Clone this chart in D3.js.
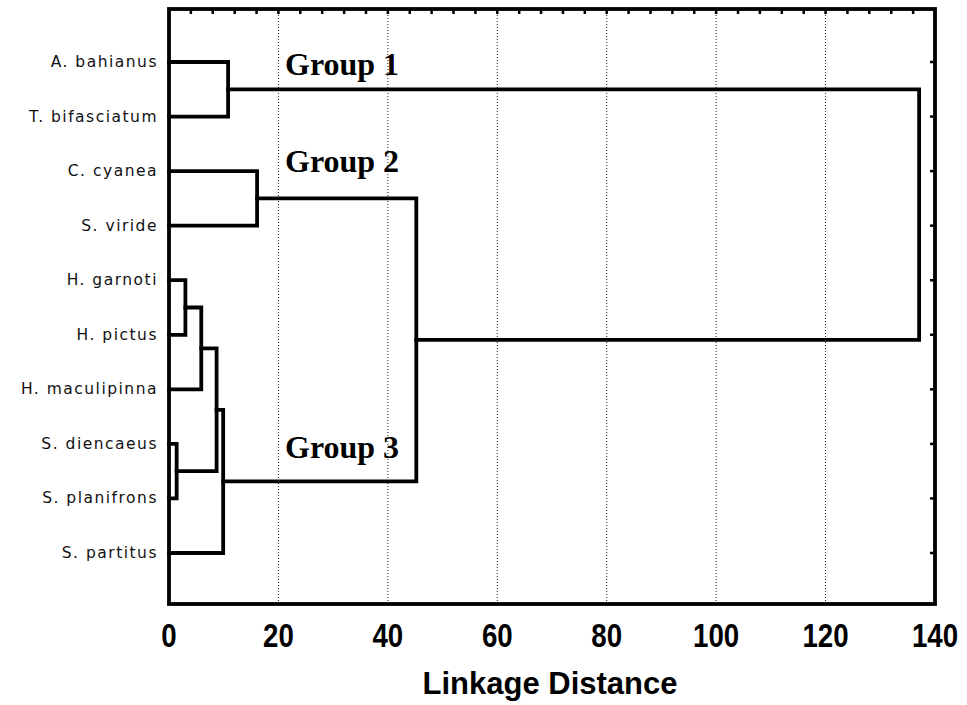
<!DOCTYPE html>
<html>
<head>
<meta charset="utf-8">
<script src="https://cdn.jsdelivr.net/npm/d3@7"></script>
<style>
  html, body { margin: 0; padding: 0; background: #fff; }
  svg { display: block; }
  .leaf { font-family: "DejaVu Sans", sans-serif; font-size: 15.5px; letter-spacing: 1.5px; fill: #111; }
  .tick-label { font-family: "Liberation Sans", Arial, sans-serif; font-size: 33px; font-weight: bold; fill: #000; }
  .axis-title { font-family: "Liberation Sans", Arial, sans-serif; font-size: 31px; font-weight: bold; fill: #000; }
  .group { font-family: "Liberation Serif", "Times New Roman", serif; font-size: 32px; font-weight: bold; fill: #000; }
</style>
</head>
<body>
<svg id="chart" width="967" height="705"></svg>
<script>
// leaves, top to bottom
const leaves = [
  "A. bahianus", "T. bifasciatum", "C. cyanea", "S. viride", "H. garnoti",
  "H. pictus", "H. maculipinna", "S. diencaeus", "S. planifrons", "S. partitus"
];
// joins: indices < 10 are leaves, 10+k is the k-th join
const joinPairs = [
  [0, 1], [2, 3], [4, 5], [12, 6], [7, 8], [13, 14], [15, 9], [11, 16], [10, 17]
];
const joinHeights = [10.8, 16.1, 3.0, 5.9, 1.4, 8.7, 9.9, 45.2, 137.1];
const xTicks = [0, 20, 40, 60, 80, 100, 120, 140];
const gridValues = [20, 40, 60, 80, 100, 120];
const groupLabels = ["Group 1", "Group 2", "Group 3"];
const groupLabelY = [75, 172, 458]; // baselines

const svg = d3.select("#chart");
const plot = { left: 169, right: 935, top: 9, bottom: 604 };

const x = d3.scaleLinear().domain([0, 140]).range([plot.left, plot.right]);
const y = d3.scalePoint().domain(leaves).range([62, 553]);

// dotted grid
svg.append("g")
  .selectAll("line")
  .data(gridValues)
  .join("line")
  .attr("x1", d => x(d)).attr("x2", d => x(d))
  .attr("y1", plot.top).attr("y2", plot.bottom)
  .attr("stroke", "#222")
  .attr("stroke-width", 1)
  .attr("stroke-dasharray", "1,2");

// minor ticks on top frame
svg.append("g")
  .selectAll("line")
  .data(d3.range(4, 140, 4))
  .join("line")
  .attr("x1", d => x(d)).attr("x2", d => x(d))
  .attr("y1", plot.top).attr("y2", plot.top + 5)
  .attr("stroke", "#000")
  .attr("stroke-width", 2.5);

// ticks on right frame at leaves
svg.append("g")
  .selectAll("line")
  .data(leaves)
  .join("line")
  .attr("x1", plot.right - 5).attr("x2", plot.right)
  .attr("y1", d => y(d)).attr("y2", d => y(d))
  .attr("stroke", "#000")
  .attr("stroke-width", 2.5);

// nodes
const nodes = leaves.map(name => ({ h: 0, y: y(name) }));
joinPairs.forEach(([a, b], i) => {
  const na = nodes[a], nb = nodes[b];
  nodes.push({ h: joinHeights[i], y: (na.y + nb.y) / 2, a: na, b: nb });
});

const links = nodes.filter(n => n.a);
svg.append("g")
  .selectAll("path")
  .data(links)
  .join("path")
  .attr("d", n => `M${x(n.a.h)},${n.a.y}H${x(n.h)}V${n.b.y}H${x(n.b.h)}`)
  .attr("fill", "none")
  .attr("stroke", "#000")
  .attr("stroke-width", 3.8)
  .attr("stroke-linejoin", "miter")
  .attr("stroke-linecap", "square");

// frame
svg.append("rect")
  .attr("x", plot.left).attr("y", plot.top)
  .attr("width", plot.right - plot.left)
  .attr("height", plot.bottom - plot.top)
  .attr("fill", "none")
  .attr("stroke", "#000")
  .attr("stroke-width", 3.8);

// leaf labels
svg.append("g")
  .selectAll("text")
  .data(leaves)
  .join("text")
  .attr("class", "leaf")
  .attr("x", 158)
  .attr("y", d => y(d) + 5)
  .attr("text-anchor", "end")
  .text(d => d);

// x tick labels (condensed, as in the original)
svg.append("g")
  .selectAll("text")
  .data(xTicks)
  .join("text")
  .attr("class", "tick-label")
  .attr("transform", d => `translate(${x(d)},647) scale(0.84,1)`)
  .attr("text-anchor", "middle")
  .text(d => d);

svg.append("text")
  .attr("class", "axis-title")
  .attr("x", 550)
  .attr("y", 694)
  .attr("text-anchor", "middle")
  .text("Linkage Distance");

// group annotations
svg.append("g")
  .selectAll("text")
  .data(groupLabels)
  .join("text")
  .attr("class", "group")
  .attr("x", 285)
  .attr("y", (d, i) => groupLabelY[i])
  .text(d => d);
</script>
</body>
</html>
